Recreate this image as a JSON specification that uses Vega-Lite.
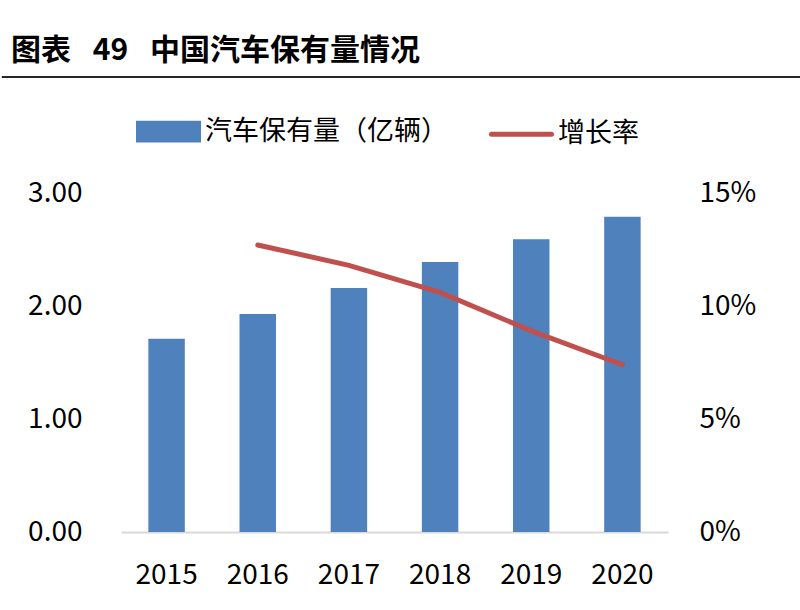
{
  "$schema": "https://vega.github.io/schema/vega-lite/v6.json",
  "description": "中国汽车保有量情况: bars for vehicle stock, line for growth rate on a right axis.",
  "width": 547,
  "height": 339,
  "padding": {"left": 0, "right": 0, "top": 36, "bottom": 12},
  "background": "#fff",
  "config": {
    "view": {"stroke": null},
    "font": "Noto Sans CJK SC"
  },
  "title": {
    "text": "图表\u2002 49\u2002 中国汽车保有量情况",
    "anchor": "start",
    "frame": "bounds",
    "dx": 10,
    "offset": 10,
    "fontSize": 30,
    "fontWeight": "bold",
    "color": "#000"
  },
  "data": {
    "values": [
      {"year": "2015", "cars": 1.71, "rate": null},
      {"year": "2016", "cars": 1.93, "rate": 0.127},
      {"year": "2017", "cars": 2.16, "rate": 0.118},
      {"year": "2018", "cars": 2.39, "rate": 0.106},
      {"year": "2019", "cars": 2.59, "rate": 0.089},
      {"year": "2020", "cars": 2.79, "rate": 0.074}
    ]
  },
  "layer": [
    {
      "mark": {"type": "bar"},
      "encoding": {
        "x": {
          "field": "year",
          "type": "ordinal",
          "scale": {"paddingInner": 0.6, "paddingOuter": 0.3},
          "axis": {
            "title": null,
            "labelAngle": 0,
            "labelFontSize": 28,
            "labelColor": "#000",
            "labelPadding": 29,
            "ticks": false,
            "domainColor": "#D9D9D9",
            "domainWidth": 2,
            "grid": false
          }
        },
        "y": {
          "field": "cars",
          "type": "quantitative",
          "scale": {"domain": [0, 3]},
          "axis": {
            "title": null,
            "values": [0, 1, 2, 3],
            "format": ".2f",
            "labelFontSize": 28,
            "labelColor": "#000",
            "labelPadding": 39,
            "ticks": false,
            "domain": false,
            "grid": false
          }
        },
        "color": {
          "datum": "汽车保有量（亿辆）",
          "type": "nominal",
          "scale": {
            "domain": ["汽车保有量（亿辆）", "增长率"],
            "range": ["#4F81BD", "#C0504D"]
          },
          "legend": {
            "title": null,
            "orient": "none",
            "direction": "horizontal",
            "legendX": 15,
            "legendY": -94,
            "labelFontSize": 27,
            "labelColor": "#000",
            "labelLimit": 400,
            "labelOffset": 4,
            "columnPadding": 33,
            "symbolSize": 3600,
            "encode": {
              "symbols": {
                "update": {
                  "shape": {"signal": "datum.value === '增长率' ? 'M-1,0H1' : 'M-1,-0.28H1V0.28H-1Z'"},
                  "fill": {"signal": "datum.value === '增长率' ? 'transparent' : '#4F81BD'"},
                  "stroke": {"signal": "datum.value === '增长率' ? '#C0504D' : 'transparent'"},
                  "strokeWidth": {"value": 5},
                  "strokeCap": {"value": "round"},
                  "opacity": {"value": 1}
                }
              }
            }
          }
        }
      }
    },
    {
      "transform": [{"filter": "isValid(datum.rate)"}],
      "mark": {"type": "line", "strokeWidth": 5, "strokeCap": "round"},
      "encoding": {
        "x": {
          "field": "year",
          "type": "ordinal",
          "scale": {"type": "band", "domain": ["2015", "2016", "2017", "2018", "2019", "2020"], "paddingInner": 0.6, "paddingOuter": 0.3},
          "axis": null
        },
        "y": {
          "field": "rate",
          "type": "quantitative",
          "scale": {"domain": [0, 0.15]},
          "axis": {
            "orient": "right",
            "title": null,
            "values": [0, 0.05, 0.1, 0.15],
            "format": ".0%",
            "labelFontSize": 28,
            "labelColor": "#000",
            "labelPadding": 31,
            "ticks": false,
            "domain": false,
            "grid": false
          }
        },
        "color": {"datum": "增长率", "type": "nominal"}
      }
    },
    {
      "mark": {"type": "rule", "color": "#262626", "strokeWidth": 2},
      "encoding": {
        "x": {"datum": -0.2176, "type": "quantitative", "scale": {"domain": [0, 1]}, "axis": null},
        "x2": {"datum": 1.245},
        "y": {"datum": 1.342, "type": "quantitative", "scale": {"domain": [0, 1]}, "axis": null}
      }
    }
  ],
  "resolve": {"scale": {"x": "independent", "y": "independent"}}
}
